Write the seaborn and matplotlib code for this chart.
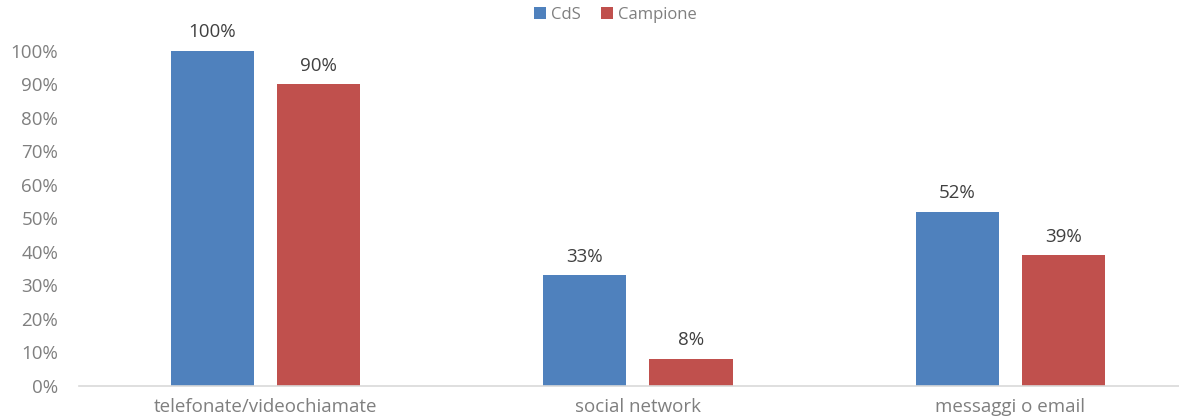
import matplotlib.pyplot as plt
import matplotlib.ticker as mticker
import pandas as pd
import seaborn as sns

# values
categories = ["telefonate/videochiamate", "social network", "messaggi o email"]
series = ["CdS", "Campione"]
cds = [1.00, 0.33, 0.52]
campione = [0.90, 0.08, 0.39]
colors = ["#4F81BD", "#C0504D"]

df = pd.DataFrame({
    "categoria": categories * 2,
    "gruppo": [series[0]] * 3 + [series[1]] * 3,
    "valore": cds + campione,
})

sns.set_theme(style="white")
plt.rcParams["font.family"] = ["Open Sans", "DejaVu Sans"]

fig = plt.figure(figsize=(11.79, 4.18), dpi=100)
ax = fig.add_axes([0.067, 0.077, 0.948, 0.801])

sns.barplot(
    data=df, x="categoria", y="valore", hue="gruppo",
    palette=colors, width=0.57, gap=0.215, ax=ax,
    linewidth=0, saturation=1,
)

ax.set_xlim(-0.5, 2.5)
ax.set_ylim(0, 1.0)
ax.yaxis.set_major_locator(mticker.MultipleLocator(0.1))
ax.yaxis.set_major_formatter(mticker.PercentFormatter(1.0, decimals=0))
ax.set_xlabel("")
ax.set_ylabel("")
ax.tick_params(axis="y", labelsize=13.5, labelcolor="#7F7F7F", pad=15, length=0)
ax.tick_params(axis="x", labelsize=13.5, labelcolor="#7F7F7F", pad=9, length=0)

for s in ["top", "right", "left"]:
    ax.spines[s].set_visible(False)
ax.spines["bottom"].set_color("#D9D9D9")
ax.spines["bottom"].set_linewidth(1.2)

for cont in ax.containers:
    ax.bar_label(cont, labels=[f"{v * 100:.0f}%" for v in cont.datavalues],
                 padding=7, fontsize=13.5, color="#404040")

ax.legend(
    loc="center", bbox_to_anchor=(0.48, 1.107), ncol=2, frameon=False,
    fontsize=12, labelcolor="#7F7F7F", handlelength=0.75, handleheight=0.75,
    handletextpad=0.3, columnspacing=1.2,
)

fig.savefig("out.png", dpi=100)
